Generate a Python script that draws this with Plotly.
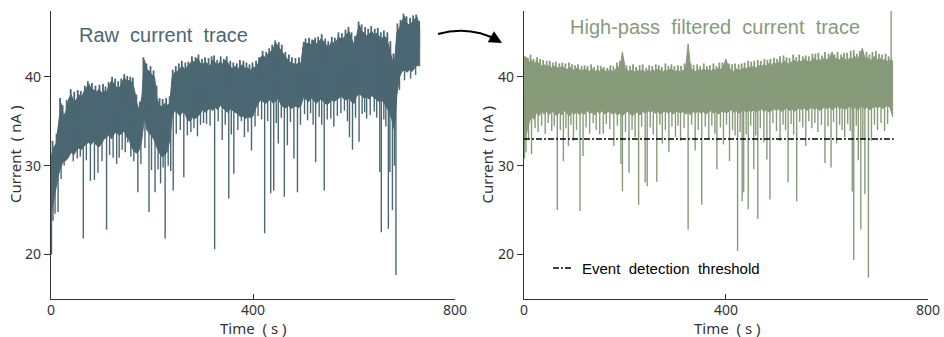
import numpy as np
import plotly.graph_objects as go

# ---------------- data ----------------
time_grid = np.arange(0, 731, 5)  # s, envelope sampling grid

raw_upper = [
    31.0, 32.0, 32.5, 34.5, 37.0, 35.5, 36.2, 37.5, 38.0, 37.2,
    37.4, 38.0, 37.6, 38.3, 38.8, 39.2, 38.6, 38.5, 38.3, 38.6,
    38.2, 38.4, 38.3, 38.9, 39.6, 39.2, 38.8, 38.7, 39.3, 39.9,
    39.5, 39.6, 39.4, 38.6, 37.0, 36.2, 37.8, 41.9, 40.8, 40.6,
    40.2, 40.0, 37.5, 36.8, 36.6, 37.0, 36.8, 37.0, 40.0, 40.5,
    40.6, 40.9, 41.2, 40.8, 41.1, 41.5, 41.8, 41.6, 42.1, 41.6,
    41.3, 41.7, 41.5, 41.2, 41.9, 41.6, 41.3, 41.7, 41.4, 41.9,
    41.6, 41.1, 40.9, 41.2, 40.8, 41.3, 41.3, 40.9, 41.0, 40.7,
    41.1, 41.0, 41.5, 42.2, 42.4, 42.1, 42.6, 42.8, 43.2, 43.8,
    43.4, 43.0, 42.6, 42.1, 41.8, 41.6, 41.5, 41.3, 41.6, 41.5,
    43.9, 43.7, 43.8, 43.6, 44.1, 43.7, 43.9, 44.3, 43.9, 43.6,
    43.3, 43.9, 43.8, 44.0, 44.5, 44.2, 44.4, 44.8, 45.1, 44.3,
    43.6, 44.6, 45.8, 45.2, 44.9, 44.6, 44.8, 45.1, 44.7, 44.9,
    44.5, 44.3, 44.6, 44.3, 43.2, 42.0, 41.6, 45.0, 45.5, 46.3,
    46.8, 46.0, 45.8, 46.2, 46.5, 46.7, 45.4,
]
raw_lower = [
    24.5, 26.0, 27.5, 29.0, 30.0, 30.5, 30.6, 31.0, 31.5, 31.2,
    31.7, 32.0, 31.8, 32.2, 32.5, 32.6, 32.4, 32.8, 32.3, 32.1,
    32.5, 33.0, 33.2, 33.5, 33.0, 33.6, 33.8, 33.4, 33.6, 33.9,
    33.2, 32.9, 32.0, 31.6, 31.4, 31.8, 33.0, 35.5, 34.0, 33.6,
    33.3, 32.8, 32.0, 31.4, 31.0, 31.2, 31.6, 32.8, 35.5, 36.2,
    36.0, 35.6, 36.0, 35.9, 35.2, 35.0, 35.4, 35.3, 35.5, 35.8,
    36.3, 36.0, 36.2, 36.5, 36.2, 36.6, 36.3, 36.8, 36.5, 36.2,
    36.0, 36.4, 36.2, 36.0, 35.8, 35.5, 35.6, 35.3, 35.5, 35.4,
    35.6, 36.4, 37.0, 37.4, 37.2, 37.0, 37.3, 37.5, 37.0, 37.3,
    37.6, 36.9, 36.6, 36.5, 36.8, 36.4, 36.6, 36.7, 36.5, 36.8,
    37.7, 37.5, 37.2, 37.6, 37.4, 37.0, 37.3, 37.5, 37.2, 36.9,
    37.0, 37.4, 37.2, 37.5, 37.6, 37.8, 37.5, 37.4, 37.6, 37.2,
    37.0, 37.8, 38.1, 37.9, 37.6, 37.7, 37.5, 37.9, 37.7, 37.4,
    37.2, 37.4, 37.0, 36.6, 36.0, 35.2, 34.0, 38.0, 40.0, 40.6,
    40.8, 40.5, 40.8, 40.6, 41.0, 41.3, 41.2,
]
# downward current blockades (time s, minimum nA)
raw_spike_t = [
    1, 4, 8, 14, 20, 26, 37, 44, 52, 58, 64, 70, 78, 86, 93, 101, 110, 116, 123, 130,
    135, 141, 147, 152, 158, 164, 172, 178, 186, 194, 199, 206, 212, 217, 222, 226, 232, 237, 242, 248,
    256, 263, 270, 277, 283, 290, 296, 302, 308, 315, 324, 331, 339, 345, 352, 357, 362, 370, 377, 383,
    390, 397, 404, 410, 417, 423, 429, 435, 441, 446, 450, 456, 462, 468, 474, 481, 488, 494, 502, 508,
    514, 519, 524, 531, 536, 541, 547, 554, 560, 567, 574, 581, 587, 591, 597, 603, 610, 616, 621, 625,
    632, 640, 645, 651, 654, 659, 663, 668, 671, 676, 680, 683, 690, 700, 712, 722,
]
raw_spike_v = [
    20.0, 23.8, 24.6, 24.8, 28.5, 30.0, 31.5, 30.5, 30.8, 31.0, 21.8, 30.6, 28.3, 28.4, 29.2, 30.5, 22.8, 31.2, 30.9, 30.2,
    30.9, 31.8, 31.5, 32.6, 31.0, 30.5, 27.0, 30.2, 32.0, 24.8, 29.5, 27.0, 29.6, 28.0, 29.8, 21.8, 30.0, 29.4, 27.2, 33.6,
    34.0, 28.7, 33.4, 33.8, 34.2, 33.3, 34.6, 34.8, 34.7, 34.5, 20.6, 35.0, 32.9, 34.6, 26.3, 33.5, 29.1, 34.0, 35.0, 33.2,
    33.8, 31.7, 34.4, 35.6, 35.2, 22.4, 35.0, 26.9, 27.2, 34.8, 32.5, 35.4, 26.5, 32.3, 34.9, 30.8, 27.0, 34.6, 35.8, 35.1,
    35.9, 34.6, 30.4, 35.5, 34.6, 27.2, 35.2, 35.3, 34.4, 35.6, 35.9, 36.2, 35.0, 33.2, 31.8, 35.4, 32.7, 35.8, 36.0, 35.3,
    35.7, 36.1, 35.4, 29.3, 22.5, 35.2, 34.4, 22.9, 29.3, 25.0, 30.0, 17.7, 38.5, 39.6, 39.8, 40.2,
]
# upward noise excursions on the top edge (time s, maximum nA)
raw_peaks = [
    (3, 32.8), (11, 33.6), (18, 37.6), (23, 36.8), (31, 37.4), (39, 38.6), (46, 38.3), (53, 38.5),
    (59, 38.4), (67, 39.0), (73, 39.5), (81, 39.3), (88, 39.0), (96, 39.1), (103, 39.2), (108, 38.9),
    (114, 39.4), (121, 40.0), (127, 39.8), (133, 39.5), (139, 39.8), (145, 40.3), (151, 40.1), (157, 40.0),
    (162, 39.9), (169, 38.0), (176, 37.2), (183, 42.2), (189, 41.5), (197, 41.2), (203, 40.7), (209, 39.0),
    (215, 37.6), (221, 37.5), (228, 37.6), (235, 37.8), (241, 40.8), (247, 41.2), (253, 41.5), (259, 41.8),
    (266, 41.6), (272, 41.7), (279, 42.3), (286, 42.2), (292, 42.5), (299, 42.0), (305, 42.2), (312, 42.1),
    (318, 42.3), (323, 42.4), (329, 41.9), (336, 42.3), (342, 42.0), (348, 42.3), (355, 41.8), (361, 41.6),
    (368, 41.5), (374, 41.9), (381, 41.8), (387, 41.6), (393, 41.4), (399, 41.6), (406, 41.8), (412, 42.2),
    (419, 42.9), (426, 42.8), (432, 43.2), (438, 43.6), (444, 44.1), (451, 43.9), (457, 43.6), (464, 42.8),
    (471, 42.5), (477, 42.2), (484, 42.1), (491, 42.2), (497, 42.0), (504, 44.3), (511, 44.4), (517, 44.2),
    (523, 44.4), (529, 44.5), (536, 44.8), (543, 44.3), (549, 44.0), (556, 44.5), (562, 44.4), (569, 45.0),
    (576, 44.9), (583, 45.3), (589, 45.6), (595, 45.0), (602, 44.6), (609, 46.2), (615, 45.9), (622, 45.6),
    (628, 45.4), (634, 45.7), (641, 45.4), (647, 45.5), (653, 45.0), (659, 45.2), (666, 45.0), (672, 44.0),
    (678, 42.6), (686, 46.0), (692, 46.4), (698, 47.1), (704, 46.8), (711, 46.6), (717, 46.9), (723, 47.0),
    (729, 46.3),
]

hp_upper = [
    41.5, 42.2, 41.6, 41.9, 41.4, 41.8, 41.5, 41.2, 41.4, 41.1,
    41.3, 41.0, 41.2, 41.1, 40.9, 41.2, 41.0, 40.8, 41.1, 40.9,
    40.7, 41.0, 40.8, 40.6, 40.9, 40.7, 40.6, 40.9, 40.5, 40.8,
    40.6, 40.9, 40.7, 40.5, 40.8, 40.6, 40.7, 41.2, 40.9, 42.8,
    41.0, 40.7, 40.6, 40.8, 40.5, 40.7, 40.6, 40.8, 40.5, 40.7,
    40.6, 40.8, 40.6, 40.9, 40.7, 40.5, 40.8, 40.6, 40.9, 40.7,
    40.6, 40.8, 40.5, 40.7, 40.9, 43.7, 41.0, 40.7, 40.6, 40.8,
    40.6, 40.9, 40.7, 40.8, 40.6, 40.9, 40.7, 41.0, 40.8, 41.2,
    42.0, 41.0, 40.8, 40.6, 40.9, 40.7, 40.8, 41.0, 40.9, 41.1,
    41.0, 41.2, 41.0, 41.3, 41.1, 41.4, 41.2, 41.5, 41.3, 41.6,
    41.4, 41.7, 41.5, 41.8, 41.6, 41.4, 41.7, 41.9, 41.6, 41.8,
    41.7, 42.0, 41.8, 41.6, 41.9, 42.1, 41.8, 42.0, 41.7, 42.2,
    41.9, 42.1, 42.8, 42.0, 42.1, 41.9, 42.2, 42.0, 41.8, 42.1,
    42.0, 42.3, 41.9, 42.4, 43.2, 42.1, 42.2, 41.8, 42.0, 42.3,
    41.9, 42.1, 41.8, 42.0, 41.7, 41.9, 41.8,
]
hp_lower = [
    32.5, 33.5, 34.8, 35.6, 35.2, 36.0, 35.6, 36.2, 35.8, 36.1,
    35.7, 36.2, 35.9, 35.6, 36.0, 35.7, 36.2, 35.9, 35.6, 36.0,
    35.8, 36.1, 35.7, 36.0, 35.8, 36.2, 35.9, 36.0, 35.7, 36.1,
    35.9, 36.2, 35.8, 36.0, 36.1, 35.8, 36.0, 35.7, 35.9, 35.6,
    35.9, 36.1, 35.8, 35.6, 35.9, 36.0, 35.7, 36.1, 35.9, 36.2,
    36.0, 36.2, 35.9, 36.1, 35.8, 36.0, 36.2, 35.9, 36.1, 35.8,
    36.0, 36.2, 35.9, 36.1, 35.8, 36.0, 35.7, 36.1, 35.9, 36.2,
    35.9, 36.1, 35.8, 36.0, 36.2, 35.9, 36.1, 35.8, 36.0, 36.2,
    35.9, 36.1, 36.3, 36.0, 36.2, 35.9, 36.1, 36.3, 36.0, 36.2,
    36.1, 36.3, 36.0, 36.2, 36.4, 36.1, 36.3, 36.0, 36.2, 36.4,
    36.2, 36.4, 36.1, 36.3, 36.5, 36.2, 36.4, 36.1, 36.3, 36.5,
    36.3, 36.5, 36.2, 36.4, 36.6, 36.3, 36.5, 36.2, 36.4, 36.6,
    36.4, 36.6, 36.3, 36.5, 36.7, 36.4, 36.6, 36.3, 36.5, 36.7,
    36.4, 36.6, 36.3, 36.5, 36.7, 36.4, 36.6, 36.3, 36.5, 36.7,
    36.5, 36.7, 36.4, 36.6, 36.8, 36.5, 35.5,
]
hp_spike_t = [
    1, 4, 9, 15, 22, 28, 35, 42, 48, 55, 60, 66, 72, 78, 83, 88, 93, 98, 104, 111,
    117, 123, 130, 137, 143, 150, 157, 163, 170, 178, 185, 192, 195, 201, 208, 214, 220, 227, 233, 240,
    244, 250, 256, 263, 269, 274, 280, 287, 293, 300, 305, 310, 317, 325, 332, 339, 345, 352, 359, 366,
    372, 378, 382, 389, 395, 401, 407, 413, 418, 423, 428, 432, 435, 440, 444, 449, 455, 459, 463, 468,
    475, 481, 487, 493, 500, 507, 513, 518, 523, 529, 534, 540, 546, 552, 558, 564, 570, 576, 582, 589,
    596, 602, 608, 613, 619, 625, 630, 635, 641, 646, 650, 653, 658, 662, 667, 671, 675, 682, 688, 694,
    700, 707, 714, 720, 727,
]
hp_spike_v = [
    30.8, 31.5, 33.0, 31.3, 34.2, 33.8, 34.5, 33.6, 34.8, 33.9, 34.5, 25.0, 34.0, 30.5, 34.2, 32.2, 34.6, 32.8, 34.0, 24.9,
    31.1, 34.3, 33.6, 34.8, 34.0, 33.5, 33.6, 34.7, 34.1, 32.2, 34.5, 30.2, 27.1, 33.8, 29.2, 34.0, 33.2, 25.6, 34.4, 28.1,
    27.7, 34.3, 33.5, 28.2, 34.6, 32.5, 34.0, 31.5, 34.4, 33.2, 34.5, 32.8, 34.2, 22.8, 34.6, 31.7, 34.0, 25.6, 34.4, 33.0,
    34.5, 33.6, 29.6, 34.3, 32.4, 34.6, 30.5, 34.0, 33.4, 20.4, 33.8, 26.0, 27.0, 33.5, 25.1, 34.5, 29.6, 33.4, 24.0, 34.2,
    32.6, 30.7, 26.2, 34.8, 33.9, 32.8, 34.6, 34.0, 28.1, 34.7, 33.5, 26.0, 34.9, 34.3, 32.2, 35.0, 34.2, 34.8, 33.8, 34.6,
    30.3, 34.4, 29.8, 34.9, 32.5, 34.6, 34.0, 33.2, 34.7, 33.9, 27.1, 19.4, 34.5, 30.6, 22.8, 33.0, 26.8, 17.4, 32.8, 34.6,
    34.0, 34.8, 33.9, 34.7, 47.5,
]
hp_peaks = [
    (2, 42.3), (8, 42.1), (13, 42.5), (19, 42.0), (26, 42.2), (32, 42.0), (38, 41.9), (45, 41.8),
    (51, 41.8), (57, 41.6), (63, 41.7), (70, 41.5), (76, 41.6), (82, 41.5), (89, 41.6), (95, 41.4),
    (101, 41.3), (107, 41.4), (114, 41.2), (120, 41.3), (126, 41.2), (133, 41.4), (139, 41.1), (146, 41.3),
    (152, 41.2), (158, 41.1), (165, 41.0), (171, 41.3), (177, 41.2), (184, 41.6), (190, 41.8), (197, 41.8),
    (203, 41.3), (210, 41.2), (216, 41.4), (222, 41.1), (229, 41.3), (235, 41.4), (242, 41.0), (248, 41.3),
    (254, 41.2), (261, 41.4), (267, 41.3), (273, 41.1), (280, 41.5), (286, 41.2), (292, 41.4), (298, 41.2),
    (305, 41.3), (311, 41.2), (318, 41.5), (330, 41.5), (336, 41.3), (343, 41.4), (349, 41.2), (356, 41.5),
    (362, 41.2), (368, 41.3), (375, 41.5), (381, 41.2), (387, 41.6), (393, 41.6), (406, 41.5), (412, 41.4),
    (418, 41.5), (425, 41.4), (431, 41.5), (437, 41.6), (444, 41.8), (450, 41.7), (456, 41.8), (463, 41.9),
    (469, 41.8), (476, 42.0), (482, 41.9), (488, 42.0), (495, 42.1), (501, 42.0), (507, 42.3), (514, 42.4),
    (520, 42.2), (526, 42.1), (533, 42.5), (539, 42.2), (545, 42.5), (552, 42.3), (558, 42.4), (564, 42.3),
    (571, 42.6), (577, 42.6), (583, 42.7), (590, 42.4), (596, 42.8), (603, 42.6), (615, 42.5), (621, 42.8),
    (628, 42.5), (634, 42.7), (640, 42.7), (647, 42.9), (653, 43.0), (659, 42.6), (665, 42.9), (678, 42.8),
    (684, 42.5), (690, 42.8), (697, 42.9), (703, 42.6), (709, 42.5), (716, 42.6), (722, 42.3),
]

threshold_level = 33.0
threshold_span = [0, 732]

x_ticks = [0, 400, 800]
y_ticks = [20, 30, 40]

RAW_COLOR = "#4B6772"
HP_COLOR = "#879B7A"

# ---------------- helpers ----------------
def band_trace(tg, upper, lower, color, xa, ya):
    xs = list(tg) + list(tg[::-1])
    ys = list(upper) + list(lower[::-1])
    return go.Scatter(x=xs, y=ys, fill="toself", fillcolor=color, mode="lines",
                      line=dict(color=color, width=1), xaxis=xa, yaxis=ya,
                      hoverinfo="skip", showlegend=False)


def spike_trace(ts, vs, upper, lower, color, xa, ya, width=1.4):
    xs, ys = [], []
    n = len(upper)
    for t, v in zip(ts, vs):
        i = min(int(round(t / 5)), n - 1)
        mid = (upper[i] + lower[i]) / 2
        xs += [t, t, None]
        ys += [mid, v, None]
    return go.Scatter(x=xs, y=ys, mode="lines", line=dict(color=color, width=width),
                      xaxis=xa, yaxis=ya, hoverinfo="skip", showlegend=False)


fig = go.Figure()
fig.add_trace(band_trace(time_grid, raw_upper, raw_lower, RAW_COLOR, "x", "y"))
fig.add_trace(spike_trace(raw_spike_t, raw_spike_v, raw_upper, raw_lower, RAW_COLOR, "x", "y"))
fig.add_trace(spike_trace([p[0] for p in raw_peaks], [p[1] for p in raw_peaks],
                          raw_upper, raw_lower, RAW_COLOR, "x", "y", width=1.8))
fig.add_trace(band_trace(time_grid, hp_upper, hp_lower, HP_COLOR, "x2", "y2"))
fig.add_trace(spike_trace(hp_spike_t, hp_spike_v, hp_upper, hp_lower, HP_COLOR, "x2", "y2"))
fig.add_trace(spike_trace([p[0] for p in hp_peaks], [p[1] for p in hp_peaks],
                          hp_upper, hp_lower, HP_COLOR, "x2", "y2", width=1.8))
fig.add_trace(go.Scatter(x=threshold_span, y=[threshold_level, threshold_level], mode="lines",
                         line=dict(color="black", width=1.4, dash="6px,2px,2px,2px"),
                         xaxis="x2", yaxis="y2", showlegend=False, hoverinfo="skip"))

TICKFONT = dict(family="Noto Sans", size=14, color="#333333")
xcommon = dict(range=[0, 800], tickvals=x_ticks, ticks="inside", ticklen=5, tickwidth=1,
               tickcolor="#333333", showline=True, linecolor="#333333", linewidth=1.2,
               showgrid=False, zeroline=False, tickfont=TICKFONT, automargin=False,
               ticklabelstandoff=-2)
ycommon = dict(range=[15, 47.4], tickvals=y_ticks, ticks="outside", ticklen=6, tickwidth=1,
               tickcolor="#333333", showline=True, linecolor="#333333", linewidth=1.2,
               showgrid=False, zeroline=False, tickfont=TICKFONT, automargin=False)

fig.update_layout(
    width=944, height=337, template="none",
    paper_bgcolor="white", plot_bgcolor="white",
    margin=dict(l=51, r=16, t=11, b=38, autoexpand=False),
    xaxis=dict(domain=[0, 0.4607], anchor="y", **xcommon),
    yaxis=dict(domain=[0, 1], anchor="x", **ycommon),
    xaxis2=dict(domain=[0.5393, 1.0], anchor="y2", **xcommon),
    yaxis2=dict(domain=[0, 1], anchor="x2", **ycommon),
    showlegend=False,
)

LABELFONT = dict(family="Noto Sans", size=15, color="#333333")
TITLEFONT = "Liberation Sans, Arial, sans-serif"
y_label = "Current\u00a0\u00a0(\u00a0nA\u00a0)"
x_label = "Time\u00a0\u00a0(\u00a0s\u00a0)"
ann = [
    dict(text="Raw\u00a0 current\u00a0 trace", x=0.1283, y=0.918, xref="paper", yref="paper",
         showarrow=False, xanchor="center", yanchor="middle",
         font=dict(family=TITLEFONT, size=20, color=RAW_COLOR)),
    dict(text="High-pass\u00a0 filtered\u00a0 current\u00a0 trace", x=0.7571, y=0.944, xref="paper", yref="paper",
         showarrow=False, xanchor="center", yanchor="middle",
         font=dict(family=TITLEFONT, size=20, color=HP_COLOR)),
    dict(text=y_label, x=-0.041, y=0.5, xref="paper", yref="paper", textangle=-90,
         showarrow=False, xanchor="center", yanchor="middle", font=LABELFONT),
    dict(text=y_label, x=0.4977, y=0.5, xref="paper", yref="paper", textangle=-90,
         showarrow=False, xanchor="center", yanchor="middle", font=LABELFONT),
    dict(text=x_label, x=0.2303, y=-0.099, xref="paper", yref="paper",
         showarrow=False, xanchor="center", yanchor="middle", font=LABELFONT),
    dict(text=x_label, x=0.7708, y=-0.099, xref="paper", yref="paper",
         showarrow=False, xanchor="center", yanchor="middle", font=LABELFONT),
    dict(text="Event\u00a0 detection\u00a0 threshold", x=0.6032, y=0.1076, xref="paper", yref="paper",
         showarrow=False, xanchor="left", yanchor="middle",
         font=dict(family=TITLEFONT, size=15, color="black")),
    # arrow head of the connecting arrow
    dict(text="", x=0.5143, y=0.889, xref="paper", yref="paper", showarrow=True,
         ax=-9, ay=-5, arrowhead=2, arrowsize=1.6, arrowwidth=1.6, arrowcolor="black"),
]
fig.update_layout(annotations=ann)

shapes = [
    dict(type="line", xref="paper", yref="paper", x0=0.5724, x1=0.5952, y0=0.1076, y1=0.1076,
         line=dict(color="black", width=1.4, dash="6px,2px,2px,2px")),
    dict(type="path", xref="paper", yref="paper",
         path="M 0.4413 0.9199 Q 0.4778 0.9520 0.5110 0.8960",
         line=dict(color="black", width=2)),
]
fig.update_layout(shapes=shapes)

fig.write_html("out.html", config={"displayModeBar": False},
               post_script="document.body.style.margin='0';document.body.style.overflow='hidden';")
